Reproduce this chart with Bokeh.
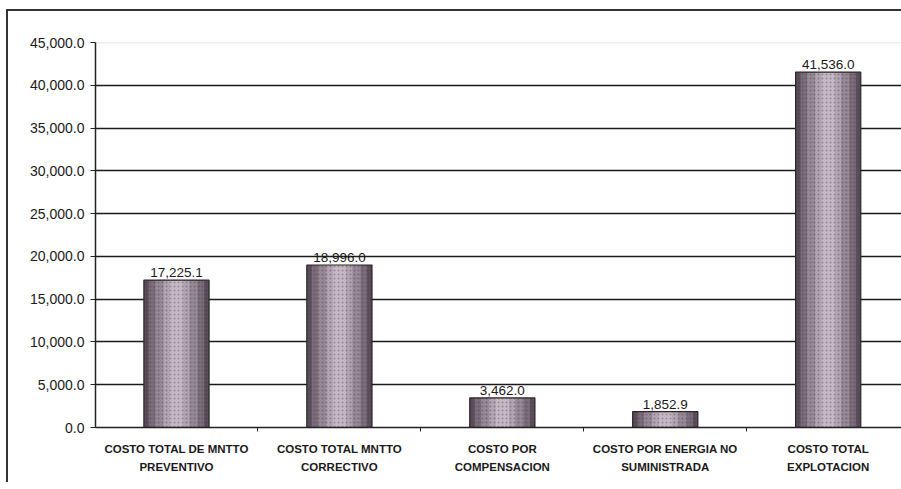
from bokeh.plotting import figure
from bokeh.models import ColumnDataSource, Range1d, FixedTicker, NumeralTickFormatter
from bokeh.core.properties import value
from bokeh.embed import file_html
from bokeh.resources import INLINE

categories = ["COSTO TOTAL DE MNTTO\nPREVENTIVO", "COSTO TOTAL MNTTO\nCORRECTIVO",
              "COSTO POR\nCOMPENSACION", "COSTO POR ENERGIA NO\nSUMINISTRADA",
              "COSTO TOTAL\nEXPLOTACION"]
costs = [17225.1, 18996.0, 3462.0, 1852.9, 41536.0]
value_labels = ["17,225.1", "18,996.0", "3,462.0", "1,852.9", "41,536.0"]
y_ticks = [0, 5000, 10000, 15000, 20000, 25000, 30000, 35000, 40000, 45000]

xs = list(range(len(categories)))
src = ColumnDataSource(dict(x=xs, top=costs, lab=value_labels))

p = figure(width=901, height=482, output_backend="svg", toolbar_location=None,
           x_range=Range1d(-0.497, 4.45), y_range=Range1d(0, 45000),
           min_border_left=95, min_border_right=0, min_border_top=42, min_border_bottom=55)
# outer chart-area frame drawn as host-element background lines
p.styles = {
    "background-color": "white",
    "background-image": "linear-gradient(#333333, #333333), linear-gradient(#333333, #333333)",
    "background-size": "2px 100%, 100% 2px",
    "background-position": "6px 9px, 6px 9px",
    "background-repeat": "no-repeat",
}
p.outline_line_color = None
p.background_fill_color = "white"
p.border_fill_color = None

# grid
p.xgrid.grid_line_color = None
p.ygrid.ticker = FixedTicker(ticks=y_ticks[:-1])
p.ygrid.grid_line_color = "#1a1a1a"
p.ygrid.grid_line_width = 1.6
p.hspan(y=[y_ticks[-1]], line_color="#e6d6dc", line_width=1.5)

# bars: layered shading for cylinder-like look
layers = [(0.40, "#5a4e5a"), (0.34, "#7a6c79"), (0.26, "#978896"), (0.16, "#b3a4b1"), (0.08, "#c6b8c4")]
for w, c in layers:
    p.vbar(x="x", top="top", width=w, bottom=0, source=src, fill_color=c, line_color=None)
p.vbar(x="x", top="top", width=0.40, bottom=0, source=src, fill_alpha=0,
       hatch_pattern="dot", hatch_color="#3a3038", hatch_alpha=0.35, hatch_scale=4,
       line_color="#2a2228", line_width=1.2)

p.text(x="x", y="top", text="lab", source=src, text_align="center", text_baseline="bottom",
       y_offset=-3, text_font=value("Liberation Sans"), text_font_size="13.5px", text_color="#1a1a1a")

# axes
ya = p.yaxis[0]
ya.ticker = FixedTicker(ticks=y_ticks)
ya.formatter = NumeralTickFormatter(format="0,0.0")
ya.major_label_text_font = "Liberation Sans"
ya.major_label_text_font_size = "14px"
ya.major_label_text_color = "#1a1a1a"
ya.axis_line_color = "#222222"
ya.axis_line_width = 1.5
ya.major_tick_out = 5
ya.major_tick_in = 0
ya.major_tick_line_color = "#222222"
ya.minor_tick_line_color = None
ya.major_label_standoff = 6

xa = p.xaxis[0]
xa.ticker = FixedTicker(ticks=xs, minor_ticks=[0.5, 1.5, 2.5, 3.5, 4.5])
xa.major_label_overrides = {i: c for i, c in enumerate(categories)}
xa.major_tick_line_color = None
xa.minor_tick_out = 4
xa.minor_tick_in = 0
xa.minor_tick_line_color = "#222222"
xa.axis_line_color = "#222222"
xa.axis_line_width = 1.5
xa.major_label_text_font = "Liberation Sans"
xa.major_label_text_font_size = "11.5px"
xa.major_label_text_font_style = "bold"
xa.major_label_text_color = "#1a1a1a"
xa.major_label_text_line_height = 1.55
xa.major_label_standoff = 9

open("out.html", "w").write(file_html(p, INLINE))
